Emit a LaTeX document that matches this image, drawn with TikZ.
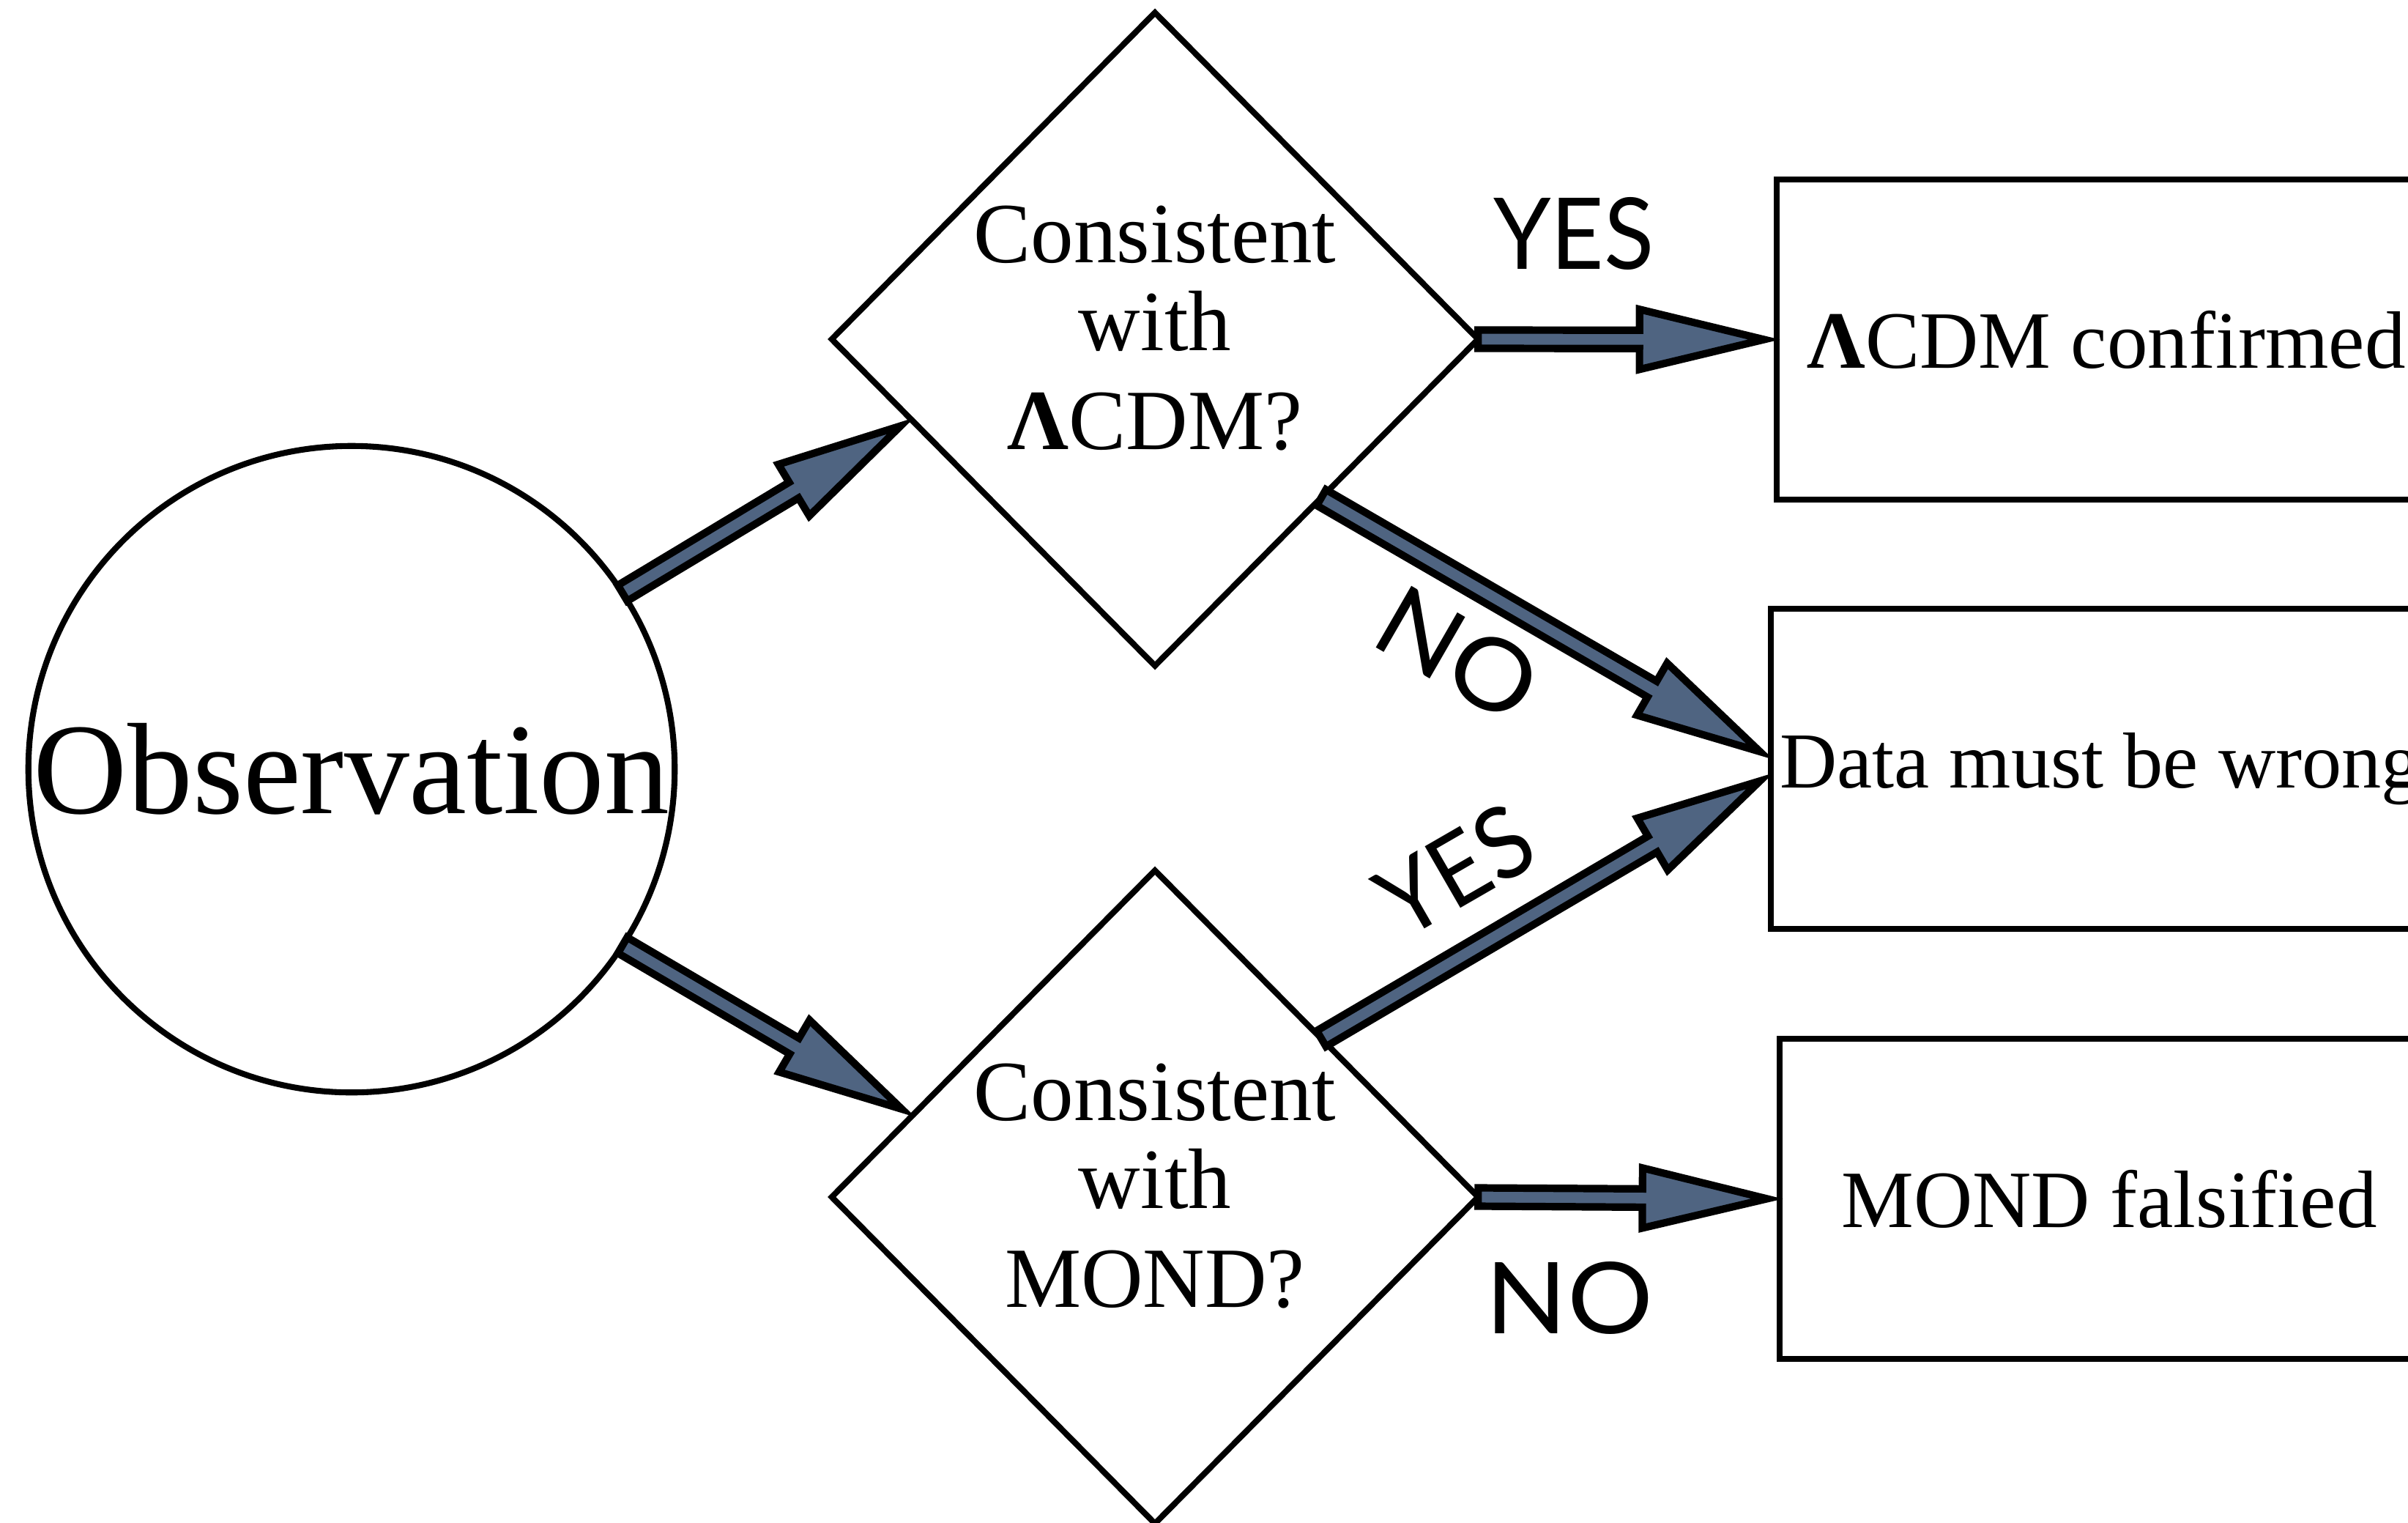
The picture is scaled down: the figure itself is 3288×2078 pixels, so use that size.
\documentclass[tikz,border=0pt]{standalone}
\usepackage{fontspec}
\setmainfont{Liberation Serif}
\newfontfamily\labelfont{Lato}
\usetikzlibrary{shapes.geometric,calc}
\definecolor{arrowfill}{RGB}{79,100,129}
\def\basw{0.125cm}
\def\bahw{0.41cm}
\def\bahl{1.70cm}
\def\batip{0.17cm}
\newcommand\blockarrow[2]{%
  \coordinate (baT) at ($(#2)!\batip!(#1)$);
  \coordinate (baH) at ($(baT)!\bahl!(#1)$);
  \draw[blockarr] ($(#1)!\basw!90:(baT)$) -- ($(baH)!\basw!-90:(#1)$) -- ($(baH)!\bahw!-90:(#1)$) -- (baT) -- ($(baH)!\bahw!90:(#1)$) -- ($(baH)!\basw!90:(#1)$) -- ($(#1)!\basw!-90:(baT)$) -- cycle;
}
\begin{document}
\begin{tikzpicture}[x=0.01cm,y=-0.01cm,
  shapeline/.style={draw=black,line width=2.3pt},
  blockarr/.style={draw=black,line width=2.9pt,fill=arrowfill,line join=miter},
  obsnode/.style={shapeline,circle,minimum size=8.82cm,inner sep=0pt,outer sep=0pt,font=\fontsize{50.5}{53}\selectfont},
  dia/.style={shapeline,diamond,minimum width=8.82cm,minimum height=8.91cm,inner sep=0pt,outer sep=0pt},
  diatext/.style={inner sep=0pt,align=center,font=\fontsize{33.3}{34.1}\selectfont},
  resbox/.style={shapeline,rectangle,minimum width=9cm,minimum height=4.36cm,inner sep=0pt,outer sep=0pt,font=\fontsize{31.6}{34}\selectfont},
  lab/.style={inner sep=0pt,font=\labelfont\fontsize{38.5}{40}\selectfont}]
\useasboundingbox (0,0) rectangle (3288,2078);
\clip (0,0) rectangle (3288,2078);
\node[obsnode] (obs) at (480,1050) {Observation};
\node[dia] (d1) at (1577,463) {};
\node[diatext] (d1t) at (1577,448) {Consistent\\with\\[4.3pt]\textbf{Λ}CDM?};
\node[dia] (d2) at (1577,1634) {};
\node[diatext] (d2t) at (1577,1619) {Consistent\\with\\[4.3pt]MOND?};
\node[resbox] (b1) at (2876,463.5) {\textbf{Λ}CDM confirmed};
\node[resbox,font=\fontsize{30.8}{33}\selectfont] (b2) at (2868,1049.5) {Data must be wrong};
\node[resbox] (b3) at (2880,1636.5) {MOND falsified};
\coordinate (t1) at ($(d1.west)!0.246!(d1.south)$);
\coordinate (t2) at ($(d2.west)!0.25!(d2.north)$);
\coordinate (s4) at ($(d1.east)!0.485!(d1.south)$);
\coordinate (s5) at ($(d2.east)!0.485!(d2.north)$);
\coordinate (e4) at ($(b2.west)+(0,-15)$);
\coordinate (e5) at ($(b2.west)+(0,8)$);
\blockarrow{obs.33.5}{t1}
\blockarrow{obs.-33.5}{t2}
\blockarrow{d1.east}{b1.west}
\blockarrow{s4}{e4}
\blockarrow{s5}{e5}
\blockarrow{d2.east}{b3.west}
\node[lab] (yes1) at (2149,319) {\scalebox{0.93}[1]{YES}};
\node[lab] (no2) at (2143,1772) {\scalebox{1.08}[1]{NO}};
\node[lab,rotate=-30] (no1) at (1991,893) {\scalebox{1.08}[1]{NO}};
\node[lab,rotate=30] (yes2) at (1987,1188) {\scalebox{0.93}[1]{YES}};
\end{tikzpicture}
\end{document}
